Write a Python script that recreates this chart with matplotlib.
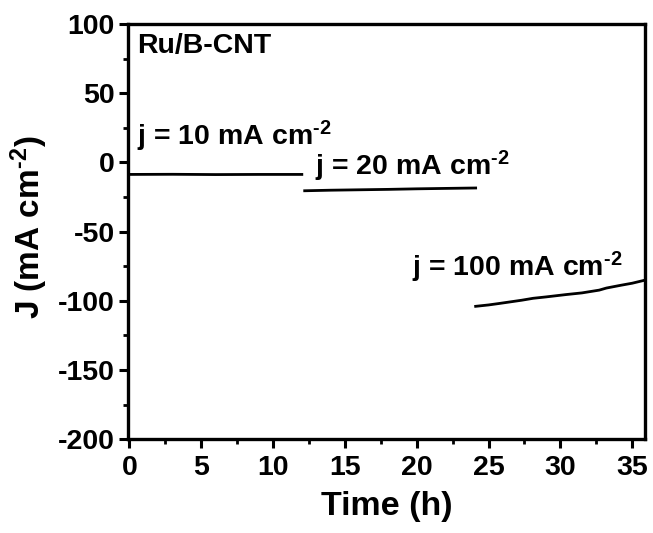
import matplotlib
matplotlib.use("Agg")
import matplotlib.pyplot as plt
from matplotlib.ticker import MultipleLocator

plt.rcParams['font.family'] = ['Liberation Sans', 'DejaVu Sans']
plt.rcParams['font.weight'] = 'bold'
plt.rcParams['axes.unicode_minus'] = False
plt.rcParams['mathtext.fontset'] = 'custom'
plt.rcParams['mathtext.rm'] = 'Liberation Sans:bold'
plt.rcParams['mathtext.default'] = 'rm'

# data
t10 = [0, 3, 6, 9, 12.0]
j10 = [-8.7, -8.6, -8.8, -8.7, -8.7]
t20 = [12.2, 14, 16, 18, 20, 22, 24.1]
j20 = [-20.5, -20.1, -19.8, -19.5, -19.1, -18.8, -18.5]
t100 = [24.1, 25.0, 25.7, 26.5, 27.3, 28.1, 29.0, 30.4, 31.5, 32.7, 33.2, 34.2, 35.0, 35.8]
j100 = [-104, -103, -102, -100.8, -99.6, -98.2, -97.2, -95.5, -94.3, -92.3, -90.8, -88.8, -87.3, -85.3]

labels = [r'j = 10 mA cm$^{\text{-}2}$', r'j = 20 mA cm$^{\text{-}2}$', r'j = 100 mA cm$^{\text{-}2}$']
label_pos = [(0.55, 12), (12.9, -9.2), (19.7, -82)]
sample = 'Ru/B-CNT'

fig = plt.figure(figsize=(6.53, 5.33), dpi=100)
ax = fig.add_axes([0.196, 0.176, 0.792, 0.779])

for t, j in [(t10, j10), (t20, j20), (t100, j100)]:
    ax.plot(t, j, color='black', lw=2.0)

for lab, (x, y) in zip(labels, label_pos):
    ax.text(x, y, lab, fontsize=20.5, fontweight='bold', va='baseline', ha='left')

ax.text(0.55, 79, sample, fontsize=20.5, fontweight='bold', va='baseline', ha='left')

ax.set_xlim(-0.1, 35.9)
ax.set_ylim(-200, 100)
ax.xaxis.set_major_locator(MultipleLocator(5))
ax.xaxis.set_minor_locator(MultipleLocator(2.5))
ax.yaxis.set_major_locator(MultipleLocator(50))
ax.yaxis.set_minor_locator(MultipleLocator(25))
ax.tick_params(which='major', direction='out', length=6.5, width=2.2, labelsize=20.5, pad=3)
ax.tick_params(axis='x', which='major', pad=5)
ax.tick_params(which='minor', direction='out', length=3.5, width=2)
for lbl in ax.get_xticklabels() + ax.get_yticklabels():
    lbl.set_fontweight('bold')
for s in ax.spines.values():
    s.set_linewidth(2.4)

ax.set_xlabel('Time (h)', fontsize=24.5, fontweight='bold', labelpad=7)
ax.set_ylabel(r'J (mA cm$^{\text{-}2}$)', fontsize=24, fontweight='bold')
ax.yaxis.set_label_coords(-0.15, 0.51)

fig.savefig('out.png', dpi=100)
